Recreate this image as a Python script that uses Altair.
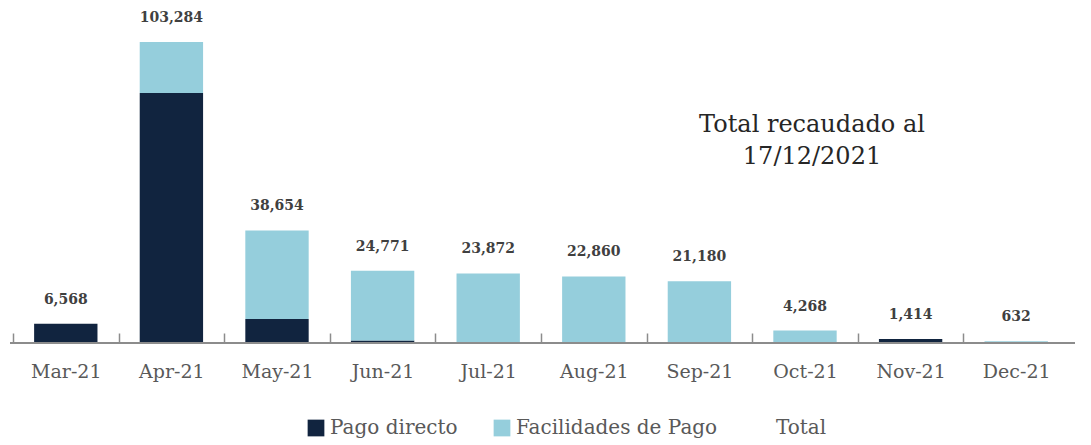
import altair as alt
import pandas as pd

months = ["Mar-21", "Apr-21", "May-21", "Jun-21", "Jul-21", "Aug-21", "Sep-21", "Oct-21", "Nov-21", "Dec-21"]
pago_directo = [6568, 85800, 8200, 850, 300, 250, 250, 300, 1414, 0]
facilidades = [0, 17484, 30454, 23921, 23572, 22610, 20930, 3968, 0, 632]
totals = [6568, 103284, 38654, 24771, 23872, 22860, 21180, 4268, 1414, 632]
series = ["Pago directo", "Facilidades de Pago", "Total"]
colors = ["#11243f", "#95cedc", "rgba(0,0,0,0)"]

FONT = "DejaVu Serif"
STEP = 105.6

rows = []
for i, m in enumerate(months):
    rows.append({"month": m, "serie": series[0], "value": pago_directo[i], "ord": 0})
    rows.append({"month": m, "serie": series[1], "value": facilidades[i], "ord": 1})
bars_df = pd.DataFrame(rows)
tot_df = pd.DataFrame({"month": months, "total": totals})

x_enc = alt.X("month:N", sort=months, title=None,
              scale=alt.Scale(paddingInner=0.4, paddingOuter=0.2),
              axis=alt.Axis(domain=False, ticks=True, tickSize=10,
                            tickOffset=-STEP / 2, labelOffset=STEP / 2,
                            offset=-10, tickColor="#8c8c8c", tickWidth=1.5,
                            labelAngle=0, labelFont=FONT, labelFontSize=19,
                            labelColor="#595959", labelPadding=19, grid=False))
y_scale = alt.Scale(domain=[0, 114300], nice=False)

bars = alt.Chart(bars_df).mark_bar().encode(
    x=x_enc,
    y=alt.Y("value:Q", stack="zero", scale=y_scale, axis=None),
    color=alt.Color("serie:N", scale=alt.Scale(domain=series, range=colors),
                    legend=alt.Legend(title=None, orient="none", legendX=293, legendY=408,
                                      direction="horizontal", symbolType="square",
                                      symbolSize=280, labelFont=FONT, labelFontSize=20,
                                      labelColor="#595959", columnPadding=34,
                                      labelOffset=4, symbolStrokeWidth=0, labelLimit=400)),
    order=alt.Order("ord:Q"),
)

labels = alt.Chart(tot_df).mark_text(
    font=FONT, fontSize=14, fontWeight="bold", color="#404040", baseline="middle", dy=-24
).encode(
    x=alt.X("month:N", sort=months),
    y=alt.Y("total:Q", scale=y_scale),
    text=alt.Text("total:Q", format=","),
)

baseline = alt.Chart(tot_df).mark_rule(color="#8c8c8c", strokeWidth=1.5).encode(
    y=alt.datum(0), x=alt.value(-3), x2=alt.value(1062)
)

note = alt.Chart(pd.DataFrame({"t": [0]})).mark_text(
    font=FONT, fontSize=24, color="#262626", align="center", baseline="middle", lineHeight=32
).encode(
    x=alt.value(799), y=alt.value(115),
    text=alt.value(["Total recaudado al", "17/12/2021"]),
)

chart = alt.layer(bars, baseline, labels, note).properties(
    width=1056, height=333,
    padding={"left": 5, "top": 2, "right": 14, "bottom": 95},
    autosize=alt.AutoSizeParams(type="none"),
).configure_view(stroke=None)

chart.save("out.html", embed_options={"renderer": "svg", "actions": False})
